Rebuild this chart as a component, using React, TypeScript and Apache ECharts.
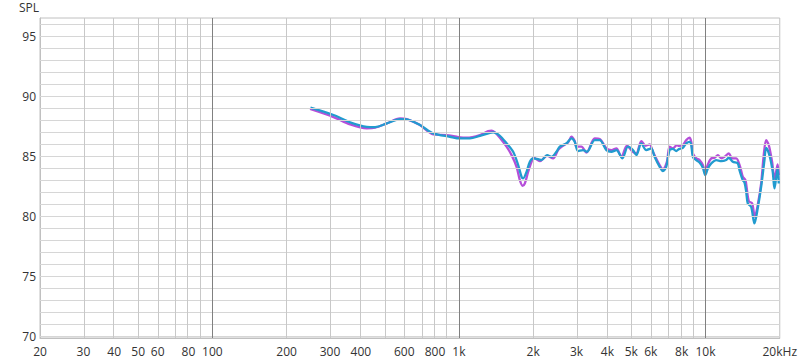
import React, { useEffect, useRef } from "react";
import * as echarts from "echarts";

const xLabelFreqs = [20, 30, 40, 50, 60, 80, 100, 200, 300, 400, 600, 800, 1000, 2000, 3000, 4000, 5000, 6000, 8000, 10000, 20000];
const xLabelTexts = ["20", "30", "40", "50", "60", "80", "100", "200", "300", "400", "600", "800", "1k", "2k", "3k", "4k", "5k", "6k", "8k", "10k", "20kHz"];
const xGridFreqs = [30, 40, 50, 60, 70, 80, 90, 100, 200, 300, 400, 500, 600, 700, 800, 900, 1000, 2000, 3000, 4000, 5000, 6000, 7000, 8000, 9000, 10000];
const xMajorFreqs = [100, 1000, 10000];
const yLabelValues = [70, 75, 80, 85, 90, 95];

const purpleFreq = [249, 310, 362, 423, 457, 510, 577, 614, 695, 787, 892, 979, 1075, 1216, 1314, 1356, 1399, 1466, 1560, 1635, 1713, 1766, 1811, 1850, 1908, 1970, 2012, 2128, 2278, 2409, 2523, 2605, 2770, 2859, 2948, 2995, 3139, 3289, 3553, 3723, 3963, 4152, 4350, 4558, 4800, 5077, 5240, 5490, 5716, 5933, 6118, 6513, 6716, 6971, 7150, 7372, 7653, 7797, 8093, 8354, 8614, 8752, 8884, 9170, 9456, 9752, 9972, 10220, 10550, 10880, 11220, 11580, 11940, 12430, 12830, 13320, 13820, 14160, 14520, 14700, 14980, 15460, 15840, 16280, 16810, 17220, 17610, 18050, 18620, 19030, 19330, 19620, 19810];
const purpleSpl = [88.92, 88.25, 87.64, 87.31, 87.36, 87.72, 88.14, 88.08, 87.58, 86.81, 86.75, 86.61, 86.53, 86.75, 87.08, 87.11, 86.97, 86.53, 85.78, 85.08, 84.11, 83.0, 82.53, 82.72, 83.69, 84.53, 84.86, 84.58, 85.03, 84.81, 85.5, 85.78, 86.14, 86.61, 86.25, 85.78, 85.78, 85.28, 86.47, 86.42, 85.64, 85.5, 85.64, 84.94, 85.86, 85.36, 85.22, 86.25, 85.86, 85.97, 85.36, 84.25, 83.92, 84.53, 85.78, 85.64, 85.92, 85.86, 85.92, 86.33, 86.53, 86.19, 85.22, 84.81, 84.67, 84.25, 83.69, 84.31, 84.81, 84.86, 85.08, 84.81, 84.94, 85.22, 84.81, 84.81, 84.11, 83.28, 83.0, 82.31, 81.25, 81.06, 79.94, 80.92, 82.72, 85.08, 86.33, 85.92, 84.53, 83.14, 83.69, 84.31, 83.42];

const blueFreq = [250, 310, 362, 423, 457, 510, 577, 614, 695, 787, 919, 1009, 1108, 1216, 1335, 1377, 1466, 1560, 1659, 1739, 1794, 1821, 1880, 1939, 1999, 2095, 2162, 2278, 2373, 2486, 2564, 2729, 2859, 2948, 3041, 3186, 3307, 3553, 3723, 3963, 4152, 4350, 4601, 4846, 5077, 5240, 5490, 5752, 6028, 6215, 6513, 6716, 6933, 7150, 7372, 7610, 7797, 8093, 8354, 8614, 8752, 8884, 9170, 9456, 9752, 9972, 10220, 10550, 11050, 11580, 12130, 12430, 12900, 13520, 13730, 14160, 14390, 14620, 14840, 15310, 15790, 16280, 16810, 17340, 17610, 18160, 18730, 19030, 19330, 19620, 19810];
const blueSpl = [89.03, 88.42, 87.81, 87.44, 87.42, 87.72, 88.08, 88.06, 87.58, 86.89, 86.61, 86.47, 86.47, 86.69, 86.94, 86.97, 86.69, 86.06, 85.36, 84.25, 83.28, 83.14, 83.69, 84.53, 84.81, 84.75, 84.67, 85.08, 84.94, 85.36, 85.78, 86.06, 86.47, 86.19, 85.42, 85.5, 85.36, 86.33, 86.33, 85.5, 85.36, 85.5, 84.81, 85.78, 85.5, 85.08, 86.06, 85.5, 85.64, 84.94, 84.11, 83.75, 84.11, 85.5, 85.6, 85.42, 85.58, 85.69, 86.06, 86.19, 85.92, 84.94, 84.67, 84.47, 84.03, 83.42, 83.97, 84.39, 84.67, 84.58, 84.67, 84.86, 84.53, 84.39, 83.83, 83.0, 82.81, 82.03, 81.06, 80.78, 79.39, 80.64, 82.44, 84.67, 85.69, 85.08, 83.69, 82.31, 83.14, 83.97, 82.72];

const FONT = "'Open Sans', 'Noto Sans', sans-serif";

export default function App() {
  const ref = useRef<HTMLDivElement>(null);
  useEffect(() => {
    if (!ref.current) return;
    const chart = echarts.init(ref.current, undefined, { renderer: "svg" });
    const lg = (f: number) => Math.log10(f);
    const hLines = [] as any[];
    for (let v = 70; v <= 96; v++) {
      hLines.push({ yAxis: v, lineStyle: { color: "#d6d6d6", width: 1, type: "solid" } });
    }
    const vLines = xGridFreqs.map((f) => ({
      xAxis: lg(f),
      lineStyle: {
        color: xMajorFreqs.includes(f) ? "#808080" : "#c8c8c8",
        width: 1,
        type: "solid",
      },
    }));
    chart.setOption({
      animation: false,
      grid: { left: 40, right: 20, top: 18, bottom: 25, show: true, borderColor: "#c0c0c0", borderWidth: 1 },
      graphic: [
        { type: "text", left: 19, top: 1, style: { text: "SPL", font: `12px ${FONT}`, fill: "#333" } },
      ],
      xAxis: {
        type: "value",
        min: lg(20),
        max: lg(20000),
        splitLine: { show: false },
        axisLine: { show: true, lineStyle: { color: "#c0c0c0" } },
        axisTick: { show: false },
        axisLabel: {
          customValues: xLabelFreqs.map(lg),
          color: "#333",
          fontFamily: FONT,
          fontSize: 12,
          margin: 7,
          hideOverlap: false,
          formatter: (v: number) => {
            let best = 0;
            for (let i = 0; i < xLabelFreqs.length; i++) {
              if (Math.abs(Math.log10(xLabelFreqs[i]) - v) < Math.abs(Math.log10(xLabelFreqs[best]) - v)) best = i;
            }
            return Math.abs(Math.log10(xLabelFreqs[best]) - v) < 0.01 ? xLabelTexts[best] : "";
          },
        },
      },
      yAxis: {
        type: "value",
        min: 69.85,
        max: 96.5,
        splitLine: { show: false },
        axisLine: { show: true, lineStyle: { color: "#c0c0c0" } },
        axisTick: { show: false },
        axisLabel: {
          customValues: yLabelValues,
          color: "#333",
          fontFamily: FONT,
          fontSize: 12,
          margin: 4,
          formatter: (v: number) => String(Math.round(v)),
        },
      },
      series: [
        {
          type: "line",
          data: [],
          silent: true,
          markLine: {
            silent: true,
            symbol: "none",
            label: { show: false },
            data: [...hLines, ...vLines],
          },
        },
        {
          type: "line",
          data: purpleFreq.map((f, i) => [lg(f), purpleSpl[i]]),
          showSymbol: false,
          smooth: 0.3,
          lineStyle: { color: "#b54fd9", width: 2.3 },
          itemStyle: { color: "#b54fd9" },
        },
        {
          type: "line",
          data: blueFreq.map((f, i) => [lg(f), blueSpl[i]]),
          showSymbol: false,
          smooth: 0.3,
          lineStyle: { color: "#229bcf", width: 2.3 },
          itemStyle: { color: "#229bcf" },
        },
      ],
    });
    return () => chart.dispose();
  }, []);
  return <div ref={ref} style={{ position: "absolute", left: 0, top: 0, width: 800, height: 363 }} />;
}
